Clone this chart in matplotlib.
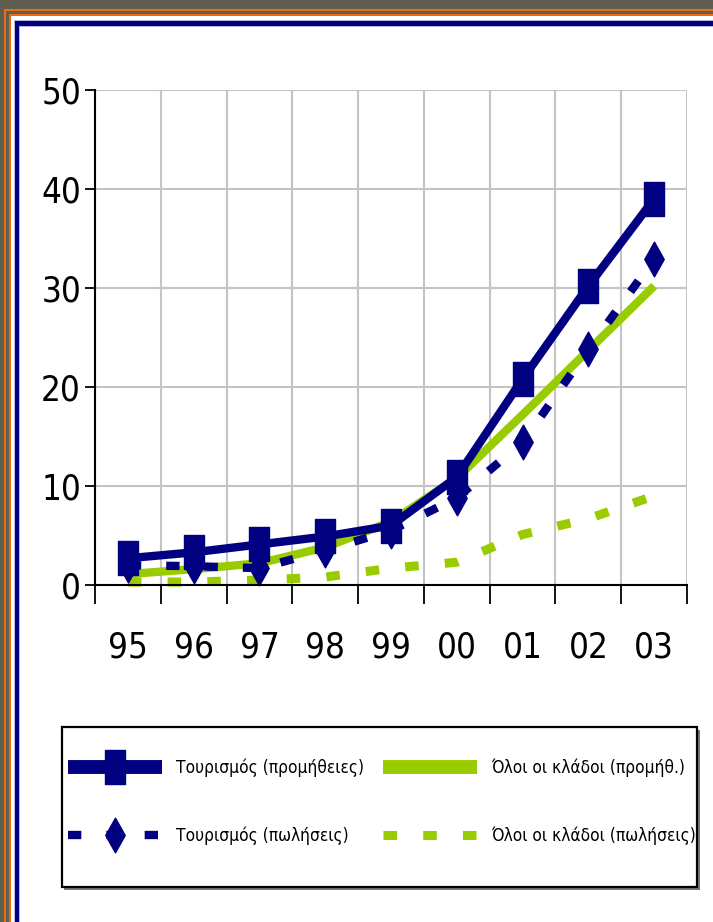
import matplotlib
matplotlib.use("Agg")
import matplotlib.pyplot as plt
from matplotlib.patches import Rectangle
from matplotlib.path import Path
import numpy as np

plt.rcParams['font.family'] = ['Liberation Sans Narrow', 'DejaVu Sans']
plt.rcParams['font.stretch'] = 'condensed'

# Δεδομένα (%)
years = ['95', '96', '97', '98', '99', '00', '01', '02', '03']
tour_prom = [2.7, 3.3, 4.1, 4.9, 6.0, 10.9, 20.8, 30.2, 39.0]
tour_sales = [2.0, 1.9, 1.7, 3.5, 5.5, 8.8, 14.4, 23.8, 32.9]
all_prom = [1.1, 1.6, 2.2, 3.8, 6.4, 10.8, 17.2, 23.7, 30.2]
all_sales = [0.3, 0.3, 0.5, 0.8, 1.7, 2.3, 5.1, 6.7, 9.0]

labels = ['Τουρισμός (προμήθειες)', 'Τουρισμός (πωλήσεις)',
          'Όλοι οι κλάδοι (προμήθ.)', 'Όλοι οι κλάδοι (πωλήσεις)']

navy = '#000080'
green = '#99cc00'

W, H = 713, 922
fig = plt.figure(figsize=(W / 100, H / 100), dpi=100)
fig.patch.set_facecolor('white')


def box(x0, y0, x1, y1, color, edge='none', lw=0, z=-10):
    # rectangle in pixel units measured from the top-left corner
    fig.add_artist(Rectangle((x0 / W, 1 - y1 / H), (x1 - x0) / W, (y1 - y0) / H,
                             transform=fig.transFigure, facecolor=color,
                             edgecolor=edge, linewidth=lw, zorder=z))


# πλαίσιο διαφάνειας
box(0, 0, W, 9, '#5e5f50')
box(0, 0, 4, H, '#5e5f50')
box(4, 9, W, 11, '#f06a12')
box(4, 9, 6, H, '#f06a12')
box(6, 11, W, 14, '#5e5f50')
box(6, 11, 9, H, '#5e5f50')
box(9, 14, W, 16, '#f06a12')
box(9, 14, 11, H, '#f06a12')
box(14, 20, W, 27, '#b8b8dc')
box(14, 20, 20, H, '#b8b8dc')
box(15, 21, W, 26, navy)
box(15, 21, 19, H, navy)

ax = fig.add_axes([95 / W, 1 - 585 / H, 592 / W, 495 / H])
x = np.arange(len(years))

rect = Path([(-0.29, -0.5), (0.29, -0.5), (0.29, 0.5), (-0.29, 0.5), (-0.29, -0.5)],
            [Path.MOVETO, Path.LINETO, Path.LINETO, Path.LINETO, Path.CLOSEPOLY])
diam = Path([(0, -0.5), (0.28, 0), (0, 0.5), (-0.28, 0), (0, -0.5)],
            [Path.MOVETO, Path.LINETO, Path.LINETO, Path.LINETO, Path.CLOSEPOLY])

l4, = ax.plot(x, all_sales, color=green, lw=6.5, dashes=(1.5, 2.9),
              dash_capstyle='butt', zorder=2, clip_on=False)
l3, = ax.plot(x, all_prom, color=green, lw=6, solid_capstyle='butt',
              zorder=3, clip_on=False)
l2, = ax.plot(x, tour_sales, color=navy, lw=6, dashes=(1.6, 3.0),
              dash_capstyle='butt', marker=diam, markersize=25, zorder=4,
              clip_on=False)
l1, = ax.plot(x, tour_prom, color=navy, lw=6, marker=rect, markersize=24,
              solid_capstyle='butt', zorder=5, clip_on=False)

ax.set_xlim(-0.5, 8.5)
ax.set_ylim(0, 50)
ax.set_xticks(np.arange(-0.5, 9, 1))
ax.set_xticklabels([])
ax.set_xticks(x, minor=True)
ax.set_xticklabels(years, minor=True)
ax.set_yticks(range(0, 51, 10))
ax.tick_params(axis='x', which='major', length=14, width=1.3, color='black')
ax.tick_params(axis='x', which='minor', length=0, pad=33, labelsize=25)
ax.tick_params(axis='y', length=7, width=1.3, pad=3, labelsize=25)
ax.grid(axis='x', which='major', color='#c4c4c4', lw=1.5)
ax.grid(axis='y', color='#c4c4c4', lw=1.5)
ax.set_axisbelow(True)
for s in ['top', 'right']:
    ax.spines[s].set_visible(False)
for s in ['left', 'bottom']:
    ax.spines[s].set_linewidth(1.5)
    ax.spines[s].set_zorder(6)

# πλαίσιο υπομνήματος με σκιά
box(64, 730, 700, 890, '#777777', z=-5)
box(62, 727, 697, 887, 'white', edge='black', lw=1.6, z=-4)

leg = fig.legend([l1, l2, l3, l4], labels, ncol=2, loc='center',
                 bbox_to_anchor=(68 / W, 1 - 832 / H, 628 / W, 60 / H),
                 mode='expand', fontsize=12.4, handlelength=5.45,
                 handletextpad=0.85, labelspacing=2.85, borderpad=0,
                 borderaxespad=0, columnspacing=0.5, numpoints=1,
                 frameon=False)
for h in leg.legend_handles:
    if h.get_linestyle() == '-':
        h.set_linewidth(10)

fig.savefig('out.png', dpi=100)
